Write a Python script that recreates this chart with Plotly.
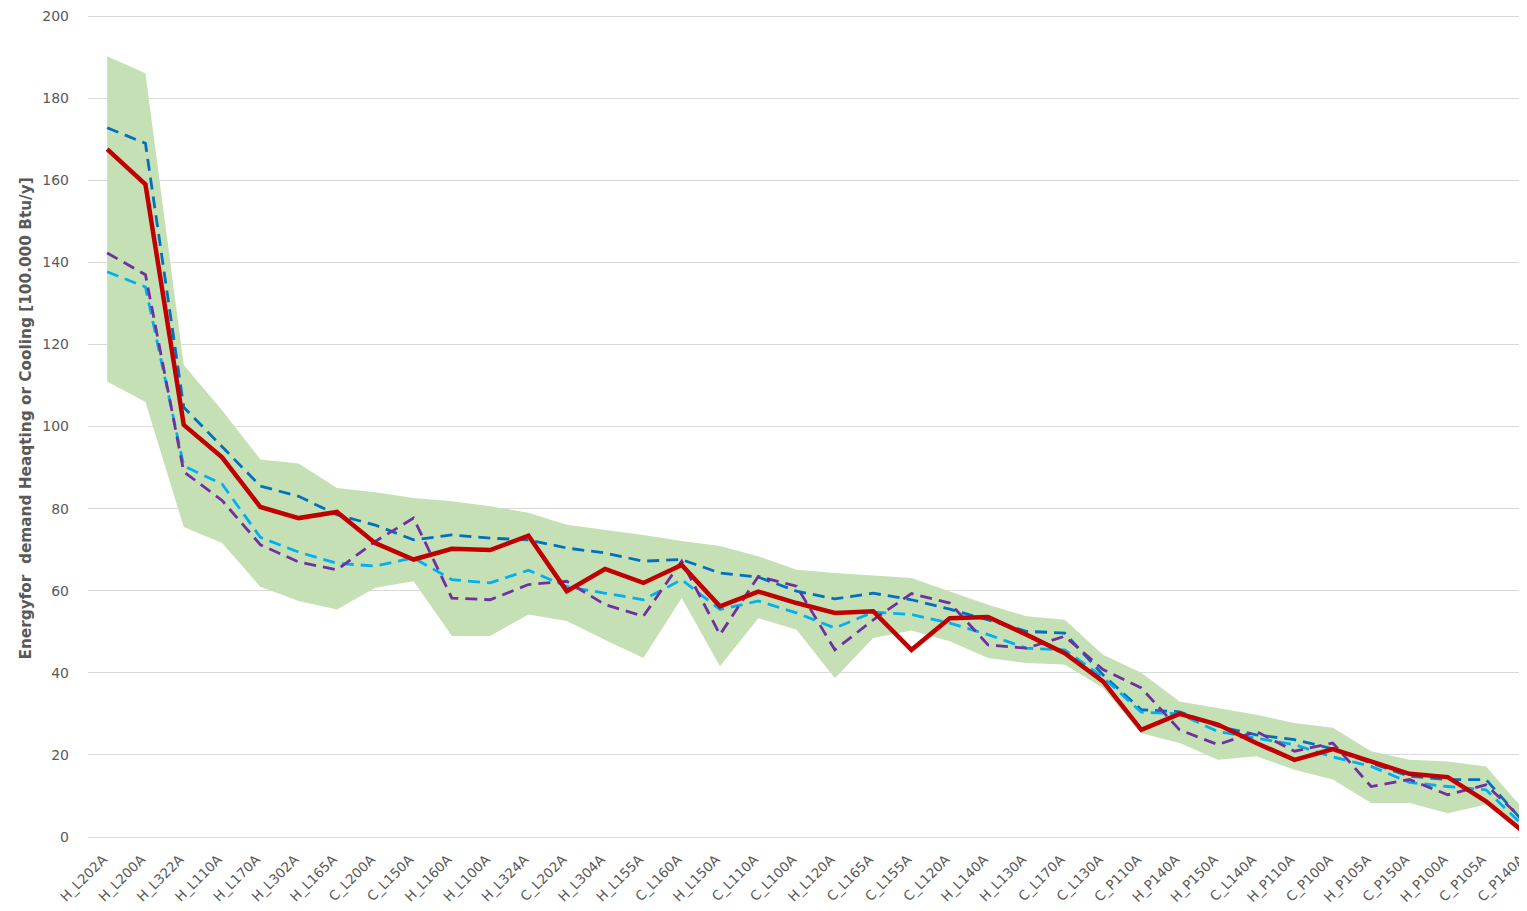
import plotly.graph_objects as go

categories = [
    "H_L202A", "H_L200A", "H_L322A", "H_L110A", "H_L170A", "H_L302A", "H_L165A",
    "C_L200A", "C_L150A", "H_L160A", "H_L100A", "H_L324A", "C_L202A", "H_L304A",
    "H_L155A", "C_L160A", "H_L150A", "C_L110A", "C_L100A", "H_L120A", "C_L165A",
    "C_L155A", "C_L120A", "H_L140A", "H_L130A", "C_L170A", "C_L130A", "C_P110A",
    "H_P140A", "H_P150A", "C_L140A", "H_P110A", "C_P100A", "H_P105A", "C_P150A",
    "H_P100A", "C_P105A", "C_P140A",
]

band_upper = [
    190.2, 186.1, 115, 104, 92, 91, 85, 84, 82.6, 81.8, 80.6, 79, 76.1, 74.9,
    73.6, 72.1, 70.9, 68.4, 65.1, 64.3, 63.7, 63.1, 59.8, 56.6, 53.8, 52.9,
    44.4, 40, 33, 31.4, 29.8, 27.8, 26.6, 20.9, 18.8, 18.4, 17.2, 6.5,
]
band_lower = [
    111, 106, 75.5, 71.6, 61, 57.5, 55.4, 60.7, 62.3, 49, 49, 54.2, 52.6, 48,
    43.6, 58.2, 41.6, 53.3, 50.5, 38.7, 48.5, 50.3, 47.7, 43.6, 42.4, 42,
    36.3, 25.3, 22.9, 18.8, 19.7, 16.4, 14, 8.3, 8.3, 5.8, 7.9, 0.5,
]
dark_blue = [
    172.8, 169, 104.7, 95.1, 85.5, 83, 78.5, 76, 72.4, 73.6, 72.8, 72.4, 70.4,
    69.2, 67.2, 67.6, 64.3, 63.3, 59.9, 58, 59.4, 57.8, 55.5, 52.9, 50.1, 49.7,
    39.5, 31, 30.5, 27, 24.9, 23.7, 21.5, 18, 14.8, 14, 14, 3.4,
]
light_blue = [
    137.7, 134, 90.4, 86, 73, 69.4, 66.7, 66, 68, 62.7, 61.9, 65, 61, 59.4,
    57.8, 62.7, 55.4, 57.5, 54.6, 50.9, 54.8, 54.2, 52.1, 49.3, 46, 45.6,
    38.9, 30.4, 30, 25.7, 24.1, 22.5, 19.5, 17.2, 13.3, 12.3, 11.5, 2.5,
]
purple = [
    142.3, 137, 89, 82, 71.2, 67, 65.1, 72, 77.7, 58.2, 57.8, 61.5, 62.3, 56.6,
    53.8, 67.2, 49.3, 63.5, 61.1, 45.6, 52.9, 59.3, 57, 46.8, 46, 48.9, 40.8,
    36.3, 26.1, 22.5, 25.7, 20.9, 22.9, 12.3, 14, 10.3, 12.7, 3.9,
]
red = [
    167.6, 159, 100.4, 92.5, 80.4, 77.7, 79.2, 71.6, 67.6, 70.2, 69.9, 73.4,
    59.9, 65.3, 61.9, 66.3, 56.2, 59.8, 57, 54.6, 55, 45.6, 53.3, 53.6, 49.3,
    44.8, 37.9, 26.1, 30, 27.4, 22.9, 18.8, 21.4, 18.4, 15.4, 14.6, 8.7, 1.1,
]
y_ticks = [0, 20, 40, 60, 80, 100, 120, 140, 160, 180, 200]

x = list(range(len(categories)))

fig = go.Figure()

# min/max range as a shaded band
fig.add_trace(go.Scatter(x=x, y=band_lower, mode="lines", line=dict(width=0),
                         hoverinfo="skip"))
fig.add_trace(go.Scatter(x=x, y=band_upper, mode="lines", line=dict(width=0),
                         fill="tonexty", fillcolor="#c5e0b4", hoverinfo="skip"))

dash = "12px,7px"
fig.add_trace(go.Scatter(x=x, y=dark_blue, mode="lines",
                         line=dict(color="#0070c0", width=2.8, dash=dash)))
fig.add_trace(go.Scatter(x=x, y=light_blue, mode="lines",
                         line=dict(color="#00b0f0", width=2.8, dash=dash)))
fig.add_trace(go.Scatter(x=x, y=purple, mode="lines",
                         line=dict(color="#7030a0", width=2.8, dash=dash)))
fig.add_trace(go.Scatter(x=x, y=red, mode="lines",
                         line=dict(color="#c00000", width=4.5)))

font_family = "DejaVu Sans, Open Sans, sans-serif"

fig.update_layout(
    width=1519,
    height=903,
    margin=dict(l=80, r=0, t=4, b=74),
    paper_bgcolor="white",
    plot_bgcolor="white",
    showlegend=False,
    font=dict(family=font_family, color="#595959"),
    xaxis=dict(
        tickmode="array",
        tickvals=x,
        ticktext=categories,
        tickangle=-45,
        tickfont=dict(size=13.5, color="#595959"),
        range=[-0.5, 37.07],
        showgrid=False,
        zeroline=False,
        showline=False,
        automargin=False,
        ticklabelstandoff=11,
        ticklabelshift=-4,
        ticklabeloverflow="allow",
    ),
    yaxis=dict(
        range=[0, 201],
        tickvals=y_ticks,
        tickfont=dict(size=14, color="#595959"),
        showgrid=True,
        gridcolor="#d9d9d9",
        gridwidth=1,
        zeroline=True,
        zerolinecolor="#d9d9d9",
        zerolinewidth=1,
        showline=False,
        automargin=False,
        ticklabelstandoff=18,
        ticklabeloverflow="allow",
    ),
    annotations=[
        dict(
            text="<b>Energyfor  demand Heaqting or Cooling [100.000 Btu/y]</b>",
            xref="paper", yref="paper", x=0, y=0.5,
            xanchor="center", yanchor="middle", xshift=-63, yshift=6,
            textangle=-90, showarrow=False,
            font=dict(family=font_family, size=15.3, color="#595959"),
        )
    ],
)

fig.write_html("out.html")
